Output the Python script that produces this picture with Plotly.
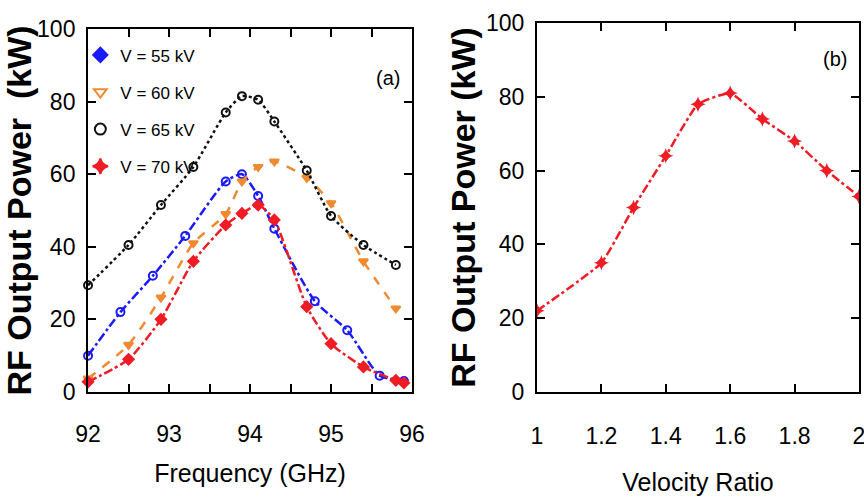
import plotly.graph_objects as go

# ---- Panel (a) data ----
f55 = [92.0, 92.4, 92.8, 93.2, 93.7, 93.9, 94.1, 94.3, 94.8, 95.2, 95.6, 95.9]
p55 = [10, 22, 32, 43, 58, 60, 54, 45, 25, 17, 4.5, 3]
f60 = [92.0, 92.5, 92.9, 93.3, 93.7, 93.9, 94.1, 94.3, 94.7, 95.0, 95.4, 95.8]
p60 = [3.7, 13, 26, 41, 49, 58, 62, 63.5, 59, 52, 36, 23]
f65 = [92.0, 92.5, 92.9, 93.3, 93.7, 93.9, 94.1, 94.3, 94.7, 95.0, 95.4, 95.8]
p65 = [29.4, 40.5, 51.5, 62, 77, 81.5, 80.5, 74.5, 61, 48.5, 40.5, 35]
f70 = [92.0, 92.5, 92.9, 93.3, 93.7, 93.9, 94.1, 94.3, 94.7, 95.0, 95.4, 95.8, 95.9]
p70 = [2.8, 9, 20, 36, 46, 49.2, 51.5, 47.4, 23.5, 13.3, 6.9, 3.2, 2.5]
labels_a = ["V = 55 kV", "V = 60 kV", "V = 65 kV", "V = 70 kV"]

# ---- Panel (b) data ----
vr = [1.0, 1.2, 1.3, 1.4, 1.5, 1.6, 1.7, 1.8, 1.9, 2.0]
pvr = [22, 35, 50, 64, 78, 81, 74, 68, 60, 53]

BLUE = "#1a1aff"
ORANGE = "#f08a30"
BLACK = "#111111"
RED = "#ee1c25"

fig = go.Figure()

series = [
    (f55, p55, BLUE, "dashdot", "circle-open", "diamond", labels_a[0]),
    (f60, p60, ORANGE, "dash", "triangle-down", "triangle-down-open", labels_a[1]),
    (f65, p65, BLACK, "dot", "circle-open", "circle-open", labels_a[2]),
    (f70, p70, RED, "dashdot", "diamond", "star-diamond", labels_a[3]),
]
for xs, ys, col, dash, sym, lsym, name in series:
    fig.add_trace(go.Scatter(
        x=xs, y=ys, mode="lines+markers", showlegend=False,
        line=dict(color=col, width=2.5, dash=dash, shape="spline", smoothing=0.6),
        marker=dict(symbol=sym, size=8, color=col, line=dict(color=col, width=2)),
        xaxis="x", yaxis="y", cliponaxis=False))
for i, (xs, ys, col, dash, sym, lsym, name) in enumerate(series):
    fig.add_trace(go.Scatter(
        x=[None], y=[None], mode="markers", name=name, legendgroup=str(i),
        marker=dict(symbol=lsym, size=11, color=col, line=dict(color=col, width=2)),
        xaxis="x", yaxis="y"))

fig.add_trace(go.Scatter(
    x=vr, y=pvr, mode="lines+markers", showlegend=False,
    line=dict(color=RED, width=2.5, dash="dashdot", shape="spline", smoothing=0.4),
    marker=dict(symbol="star-diamond", size=11, color=RED),
    xaxis="x2", yaxis="y2"))

FONT = "Liberation Sans, Arial, sans-serif"
tickfont = dict(family=FONT, size=23, color="black")
titlefont = dict(family=FONT, size=25, color="black")
ytitlefont = dict(family=FONT, size=34, color="black")
axcommon = dict(showline=True, linecolor="black", linewidth=2, mirror="ticks",
                ticks="inside", ticklen=8, tickwidth=2, tickcolor="black",
                showgrid=False, zeroline=False, tickfont=tickfont, automargin=False,
                ticklabeloverflow="allow")

fig.update_layout(
    width=864, height=498,
    margin=dict(l=0, r=0, t=0, b=0, autoexpand=False),
    paper_bgcolor="white", plot_bgcolor="white",
    xaxis=dict(domain=[0.1019, 0.4769], range=[92, 96], dtick=1, anchor="y",
               ticklabelstandoff=20,
               minor=dict(dtick=0.5, ticks="inside", ticklen=8, tickwidth=2, tickcolor="black"),
               title=dict(text="Frequency (GHz)", font=titlefont, standoff=19),
               **axcommon),
    yaxis=dict(domain=[0.2129, 0.9418], range=[0, 100], dtick=20, anchor="x",
               ticklabelstandoff=6,
               title=dict(text="<b>RF Output Power  (kW)</b>", font=ytitlefont, standoff=0),
               **axcommon),
    xaxis2=dict(domain=[0.6215, 0.9942], range=[1, 2], dtick=0.2, anchor="y2",
                ticklabelstandoff=22,
                title=dict(text="Velocity Ratio", font=titlefont, standoff=26),
                **axcommon),
    yaxis2=dict(domain=[0.2129, 0.9538], range=[0, 100], dtick=20, anchor="x2",
                ticklabelstandoff=6,
                title=dict(text="<b>RF Output Power (kW)</b>", font=ytitlefont, standoff=0),
                **axcommon),
    legend=dict(x=0.093, y=0.925, xanchor="left", yanchor="top",
                bgcolor="rgba(0,0,0,0)", tracegroupgap=12, itemwidth=30,
                font=dict(family=FONT, size=17, color="black")),
    annotations=[
        dict(text="(a)", x=0.449, y=0.843, xref="paper", yref="paper", showarrow=False,
             xanchor="center", yanchor="middle",
             font=dict(family=FONT, size=20, color="black")),
        dict(text="(b)", x=0.9664, y=0.881, xref="paper", yref="paper", showarrow=False,
             xanchor="center", yanchor="middle",
             font=dict(family=FONT, size=20, color="black")),
    ],
)

fig.write_html("out.html")
